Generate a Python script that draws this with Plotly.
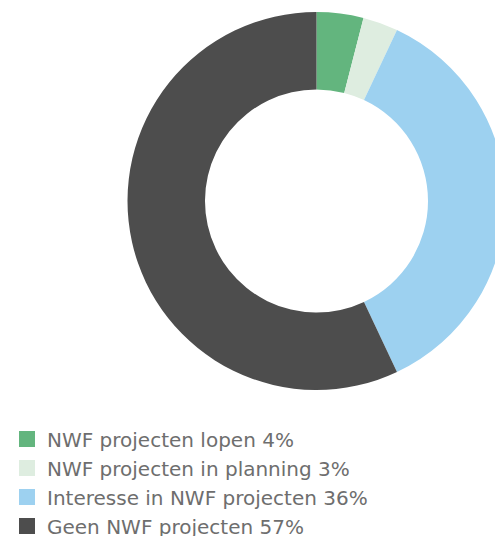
import plotly.graph_objects as go

labels = ["NWF projecten lopen", "NWF projecten in planning", "Interesse in NWF projecten", "Geen NWF projecten"]
values = [4, 3, 36, 57]
colors = ["#63b57e", "#deede0", "#9dd1f0", "#4d4d4d"]

W, H = 510, 536
cx, cy, R = 316.5, 201, 189

fig = go.Figure()
fig.add_trace(go.Pie(
    labels=labels, values=values, hole=0.59, sort=False, direction="clockwise",
    rotation=0, marker=dict(colors=colors, line=dict(width=0)),
    textinfo="none", hoverinfo="label+percent", showlegend=False,
    domain=dict(x=[(cx - R) / W, (cx + R) / W], y=[(H - cy - R) / H, (H - cy + R) / H]),
))
for lab, v, c in zip(labels, values, colors):
    fig.add_trace(go.Scatter(
        x=[None], y=[None], mode="markers", name=f"{lab} {v}%",
        marker=dict(symbol="square", size=17, color=c),
    ))

fig.update_layout(
    width=W, height=H, margin=dict(l=0, r=0, t=0, b=0, autoexpand=False),
    paper_bgcolor="white", plot_bgcolor="white",
    xaxis=dict(visible=False), yaxis=dict(visible=False),
    showlegend=True,
    legend=dict(x=7 / W, xanchor="left", y=1 - 419.5 / H, yanchor="top",
                font=dict(family="DejaVu Sans", size=20, color="#6e6e6e"),
                itemsizing="trace", tracegroupgap=0, bgcolor="rgba(0,0,0,0)"),
)
fig.write_html("out.html", config={"displayModeBar": False},
               post_script="document.body.style.margin='0';document.body.style.overflow='hidden';document.documentElement.style.overflow='hidden';")
